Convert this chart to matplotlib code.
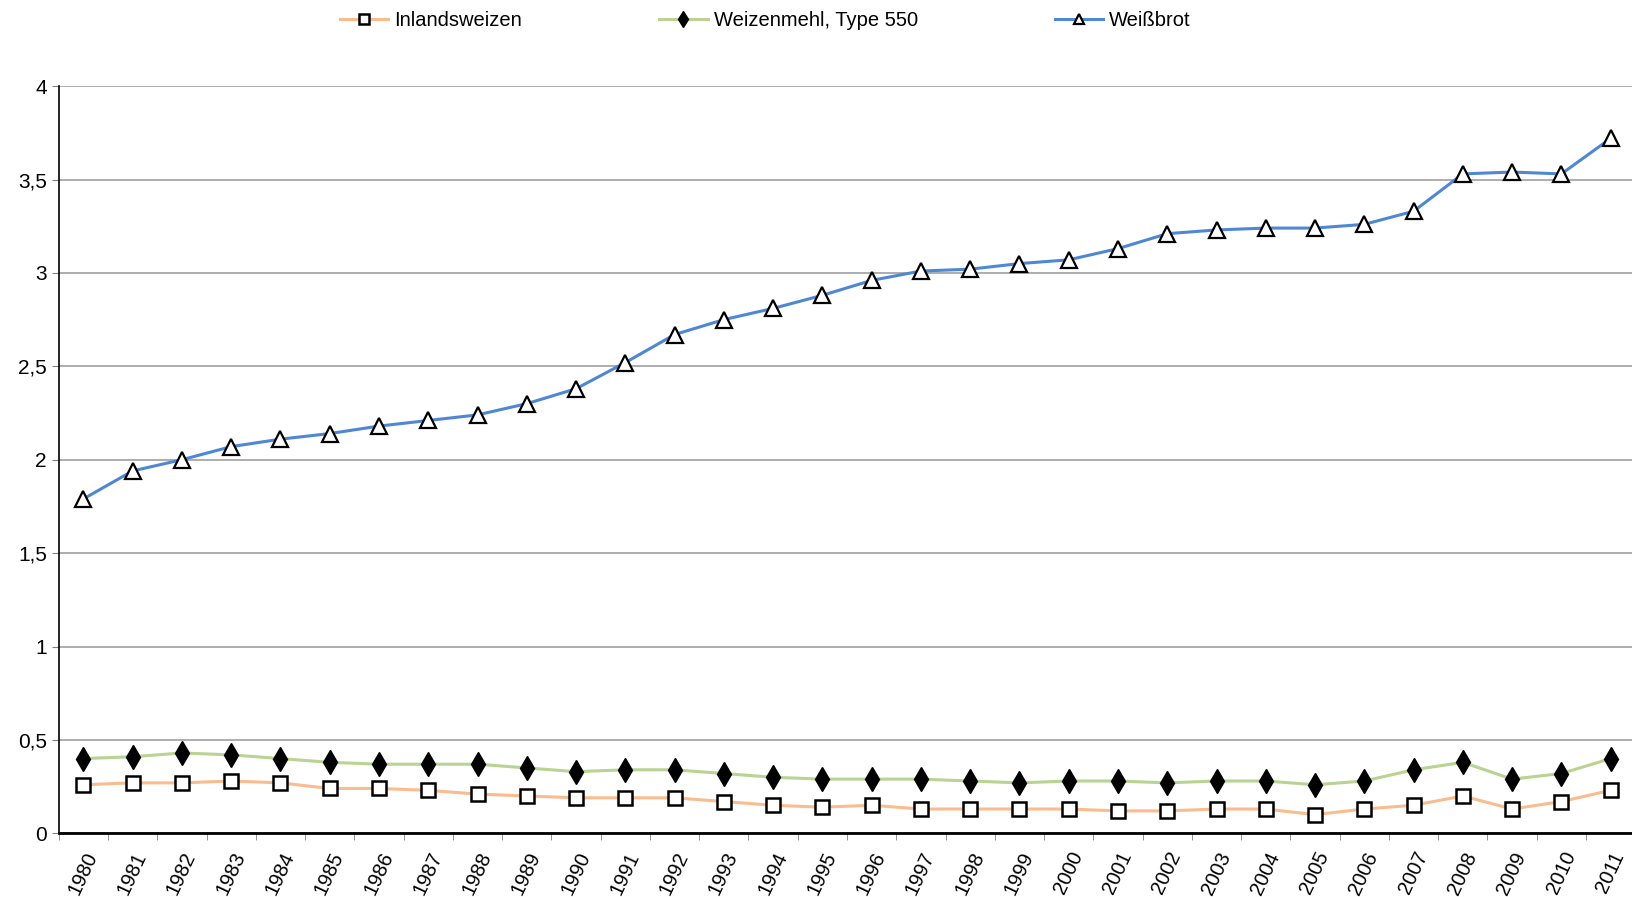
import matplotlib.pyplot as plt
import matplotlib.transforms as mtransforms
from matplotlib.ticker import FuncFormatter, MultipleLocator
import numpy as np

plt.rcParams['font.family'] = ['Liberation Sans', 'DejaVu Sans']

years = list(range(1980, 2012))
inlandsweizen = [0.26, 0.27, 0.27, 0.28, 0.27, 0.24, 0.24, 0.23, 0.21, 0.20,
                 0.19, 0.19, 0.19, 0.17, 0.15, 0.14, 0.15, 0.13, 0.13, 0.13,
                 0.13, 0.12, 0.12, 0.13, 0.13, 0.10, 0.13, 0.15, 0.20, 0.13,
                 0.17, 0.23]
weizenmehl = [0.40, 0.41, 0.43, 0.42, 0.40, 0.38, 0.37, 0.37, 0.37, 0.35,
              0.33, 0.34, 0.34, 0.32, 0.30, 0.29, 0.29, 0.29, 0.28, 0.27,
              0.28, 0.28, 0.27, 0.28, 0.28, 0.26, 0.28, 0.34, 0.38, 0.29,
              0.32, 0.40]
weissbrot = [1.79, 1.94, 2.00, 2.07, 2.11, 2.14, 2.18, 2.21, 2.24, 2.30,
             2.38, 2.52, 2.67, 2.75, 2.81, 2.88, 2.96, 3.01, 3.02, 3.05,
             3.07, 3.13, 3.21, 3.23, 3.24, 3.24, 3.26, 3.33, 3.53, 3.54,
             3.53, 3.72]
labels = ['Inlandsweizen', 'Weizenmehl, Type 550', 'Weißbrot']

fig = plt.figure(figsize=(16.32, 8.97), dpi=100)
ax = fig.add_axes([0.036, 0.071, 0.966, 0.833])

x = np.arange(len(years))
ax.plot(x, inlandsweizen, color='#F9BC8F', lw=2.2, marker='s', ms=10,
        mfc='white', mec='black', mew=1.8, label=labels[0], zorder=3)
ax.plot(x, weizenmehl, color='#B8D392', lw=2.2, marker='d', ms=12,
        mfc='black', mec='black', label=labels[1], zorder=3)
ax.plot(x, weissbrot, color='#4F87D3', lw=2.2, marker='^', ms=11,
        mfc='white', mec='black', mew=1.6, label=labels[2], zorder=3)

ax.set_xlim(-0.5, len(years) - 0.5)
ax.set_ylim(0, 4)
ax.yaxis.set_major_locator(MultipleLocator(0.5))
ax.yaxis.set_major_formatter(FuncFormatter(lambda v, p: ('%g' % v).replace('.', ',')))
ax.grid(axis='y', color='#A0A0A0', lw=1.2)
ax.set_axisbelow(True)

ax.set_xticks(x)
ax.set_xticklabels([str(y) for y in years], rotation=65, ha='right', va='center',
                   rotation_mode='anchor')
ax.tick_params(axis='x', which='major', length=0, pad=14, labelsize=14.5)
shift = mtransforms.ScaledTranslation(0.09, 0, fig.dpi_scale_trans)
for lab in ax.get_xticklabels():
    lab.set_transform(lab.get_transform() + shift)
ax.set_xticks(np.arange(-0.5, len(years)), minor=True)
ax.tick_params(axis='x', which='minor', length=5, color='#808080', direction='out')
ax.tick_params(axis='y', length=5, labelsize=15, color='#808080')

for s in ['top', 'right']:
    ax.spines[s].set_visible(False)
ax.spines['left'].set_linewidth(1.2)
ax.spines['bottom'].set_linewidth(2)

fig.legend(loc='upper center', bbox_to_anchor=(0.469, 1.008), ncol=3, frameon=False,
           fontsize=14.5, columnspacing=6.8, handlelength=2.4, handletextpad=0.3,
           markerscale=0.7)

fig.savefig('out.png', dpi=100)
